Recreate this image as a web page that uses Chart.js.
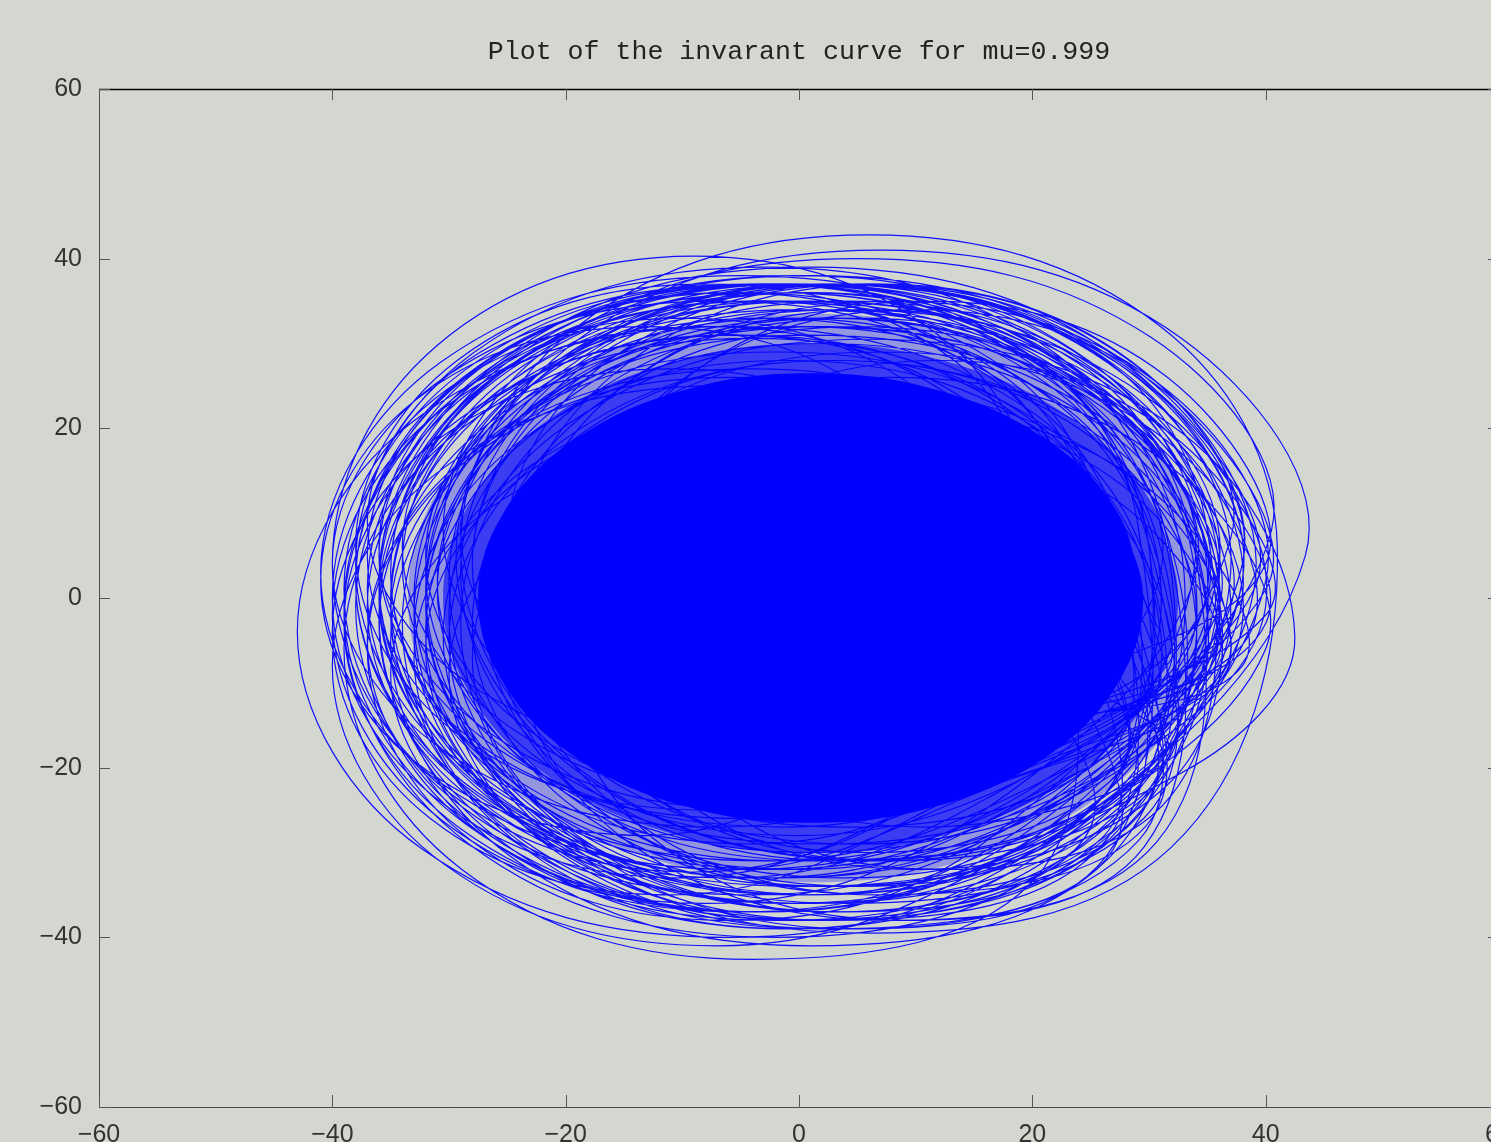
<!DOCTYPE html>
<html lang="en">
<head>
<meta charset="UTF-8">
<title>Plot of the invarant curve</title>
<script src="https://cdn.jsdelivr.net/npm/chart.js"></script>
<style>
    html, body {
        margin: 0;
        padding: 0;
        overflow: hidden;
        background: #d4d7d0;
    }
    #wrap {
        width: 1598px;
        height: 1180px;
    }
</style>
</head>
<body>
<div id="wrap"><canvas id="chart" width="1598" height="1180"></canvas></div>

<script>
const titleText = 'Plot of the invarant curve for mu=0.999';
const xTicks = [-60, -40, -20, 0, 20, 40, 60];
const yTicks = [-60, -40, -20, 0, 20, 40, 60];

// dense, nearly solid middle of the curve (last two points repeat the first two to close smoothly)
const coreX = [29.5, 27.3, 21.2, 11.9, 1, -9.9, -19.2, -25.3, -27.5, -25.3, -19.2, -9.9, 1, 11.9, 21.2, 27.3, 29.5, 27.3];
const coreY = [0, 10.1, 18.7, 24.5, 26.5, 24.5, 18.7, 10.1, 0, -10.1, -18.7, -24.5, -26.5, -24.5, -18.7, -10.1, 0, 10.1];
// less dense rings around it
const ring1X = [32.5, 30.1, 23.3, 13.1, 1, -11.1, -21.3, -28.1, -30.5, -28.1, -21.3, -11.1, 1, 13.1, 23.3, 30.1, 32.5, 30.1];
const ring1Y = [0, 11.5, 21.2, 27.7, 30, 27.7, 21.2, 11.5, 0, -11.5, -21.2, -27.7, -30, -27.7, -21.2, -11.5, 0, 11.5];
const ring2X = [35.5, 32.9, 25.4, 14.2, 1, -12.2, -23.4, -30.9, -33.5, -30.9, -23.4, -12.2, 1, 14.2, 25.4, 32.9, 35.5, 32.9];
const ring2Y = [0, 12.8, 23.7, 30.9, 33.5, 30.9, 23.7, 12.8, 0, -12.8, -23.7, -30.9, -33.5, -30.9, -23.7, -12.8, 0, 12.8];

// the outer turns of the curve (8 points per turn)
const curvePts = [
    [31,-4],[20.3,21.6],[-6,32],[-32.3,21.6],[-43,-4],[-32.3,-29.6],[-6,-40],[20.3,-29.6],
    [43.4,5],[32.8,30.6],[7,41],[-18.8,30.6],[-29.4,5],[-18.8,-20.6],[7,-31],[32.8,-20.6],
    [42.5,-4.5],[31.9,20.4],[6,30.5],[-19.9,20.4],[-30.5,-4.5],[-19.9,-29.4],[6,-39.5],[31.9,-29.4],
    [41,6],[30.9,32.1],[6,42.8],[-18.9,32.1],[-29,6],[-18.9,-20.1],[6,-30.8],[30.9,-20.1],
    [31,-6],[20.9,20],[-4,30.6],[-28.9,20],[-39,-6],[-28.9,-32],[-4,-42.6],[20.9,-32],
    [22,4],[13,29.8],[-9,40.3],[-31,29.8],[-40,4],[-31,-21.8],[-9,-32.3],[13,-21.8],
    [31,3],[20.6,27.9],[-5,38],[-30.6,27.9],[-41,3],[-30.6,-21.9],[-5,-32],[20.6,-21.9],
    [40.5,8],[30.2,30.7],[5,40],[-20.2,30.7],[-30.5,8],[-20.2,-14.7],[5,-24],[30.2,-14.7],
    [37,-5],[26.6,20.6],[1,31],[-24.6,20.6],[-35,-5],[-24.6,-30.6],[1,-41],[26.6,-30.6],
    [32,2],[22.1,26.1],[-2,36],[-26.1,26.1],[-36,2],[-26.1,-22.1],[-2,-32],[22.1,-22.1],
    [36,-2],[26.4,22.9],[3,33],[-20.4,22.9],[-30,-2],[-20.4,-26.9],[3,-37],[26.4,-26.9],
    [32,-1],[21.9,24.6],[-3,35],[-27.9,24.6],[-38,-1],[-27.9,-26.6],[-3,-37],[21.9,-26.6],
    [38,2],[28.1,26.9],[4,37],[-20.1,26.9],[-30,2],[-20.1,-22.9],[4,-33],[28.1,-22.9],
    [26,-8],[16.4,15.4],[-7,25],[-30.4,15.4],[-40,-8],[-30.4,-31.4],[-7,-41],[16.4,-31.4],
    [40,-6],[30.7,16.7],[8,26],[-14.7,16.7],[-24,-6],[-14.7,-28.7],[8,-38],[30.7,-28.7],
    [34,5],[23.9,27.7],[-1,37],[-25.9,27.7],[-36,5],[-25.9,-17.7],[-1,-27],[23.9,-17.7],
    [37,-7],[26.9,15.7],[2,25],[-22.9,15.7],[-33,-7],[-22.9,-29.7],[2,-39],[26.9,-29.7],
    [20,0],[11.3,23.4],[-10,33],[-31.3,23.4],[-40,0],[-31.3,-23.4],[-10,-33],[11.3,-23.4],
    [40,1],[31.3,24.4],[10,34],[-11.3,24.4],[-20,1],[-11.3,-22.4],[10,-32],[31.3,-22.4],
    [36,0],[25.6,24.1],[0,34],[-25.6,24.1],[-36,0],[-25.6,-24.1],[0,-34],[25.6,-24.1],
    [30,6],[20.4,28],[-3,37],[-26.4,28],[-36,6],[-26.4,-16],[-3,-25],[20.4,-16],
    [39,-3],[29.1,22.6],[5,33],[-19.1,22.6],[-29,-3],[-19.1,-28.6],[5,-39],[29.1,-28.6],
    [29,-3],[19.1,21.1],[-5,31],[-29.1,21.1],[-39,-3],[-29.1,-27.1],[-5,-37],[19.1,-27.1],
    [38,4],[27.6,27.4],[2,37],[-23.6,27.4],[-34,4],[-23.6,-19.4],[2,-29],[27.6,-19.4],
    [32,-3],[22.4,22.6],[-1,33],[-24.4,22.6],[-34,-3],[-24.4,-28.6],[-1,-39],[22.4,-28.6],
    [39,1],[29.7,26.6],[7,37],[-15.7,26.6],[-25,1],[-15.7,-24.6],[7,-35],[29.7,-24.6],
    [26,2],[16.7,26.1],[-6,36],[-28.7,26.1],[-38,2],[-28.7,-22.1],[-6,-32],[16.7,-22.1],
    [36,-9],[26.4,12.3],[3,21],[-20.4,12.3],[-30,-9],[-20.4,-30.3],[3,-39],[26.4,-30.3],
    [29,9],[19.4,28.9],[-4,37],[-27.4,28.9],[-37,9],[-27.4,-10.9],[-4,-19],[19.4,-10.9],
    [40,4],[31.6,26],[11,35],[-9.6,26],[-18,4],[-9.6,-18],[11,-27],[31.6,-18],
    [18,-4],[9.6,18],[-11,27],[-31.6,18],[-40,-4],[-31.6,-26],[-11,-35],[9.6,-26],
    [39,1],[28,27.3],[1,38],[-26,27.3],[-37,1],[-26,-25.3],[1,-36],[28,-25.3],
    [35,-2],[24.3,25],[-2,36],[-28.3,25],[-39,-2],[-28.3,-29],[-2,-40],[24.3,-29],
    [37,3],[27.4,27.1],[4,37],[-19.4,27.1],[-29,3],[-19.4,-21.1],[4,-31],[27.4,-21.1],
    [22,6],[13.3,28],[-8,37],[-29.3,28],[-38,6],[-29.3,-16],[-8,-25],[13.3,-16],
    [38,-8],[29.6,13.3],[9,22],[-11.6,13.3],[-20,-8],[-11.6,-29.3],[9,-38],[29.6,-29.3],
    [32,4],[21.9,28.9],[-3,39],[-27.9,28.9],[-38,4],[-27.9,-20.9],[-3,-31],[21.9,-20.9],
    [36,-4],[26.1,20.1],[2,30],[-22.1,20.1],[-32,-4],[-22.1,-28.1],[2,-38],[26.1,-28.1],
    [25,-6],[16,16.7],[-6,26],[-28,16.7],[-37,-6],[-28,-28.7],[-6,-38],[16,-28.7],
    [37,7],[28,28.3],[6,37],[-16,28.3],[-25,7],[-16,-14.3],[6,-23],[28,-14.3],
    [35,-1],[24.9,25.3],[0,36],[-24.9,25.3],[-35,-1],[-24.9,-27.3],[0,-38],[24.9,-27.3],
    [15,2],[6.9,23.3],[-13,32],[-32.9,23.3],[-41,2],[-32.9,-19.3],[-13,-28],[6.9,-19.3],
    [40,-2],[31.9,19.3],[12,28],[-7.9,19.3],[-16,-2],[-7.9,-23.3],[12,-32],[31.9,-23.3],
    [35,8],[25.7,28.6],[3,37],[-19.7,28.6],[-29,8],[-19.7,-12.6],[3,-21],[25.7,-12.6],
    [31,-9],[21.4,11.6],[-2,20],[-25.4,11.6],[-35,-9],[-25.4,-29.6],[-2,-38],[21.4,-29.6],
    [40,2],[30.7,25.4],[8,35],[-14.7,25.4],[-24,2],[-14.7,-21.4],[8,-31],[30.7,-21.4],
    [24,-2],[14.7,22.1],[-8,32],[-30.7,22.1],[-40,-2],[-30.7,-26.1],[-8,-36],[14.7,-26.1],
    [34,3],[24.4,26.4],[1,36],[-22.4,26.4],[-32,3],[-22.4,-20.4],[1,-30],[24.4,-20.4],
    [31,2],[22,23.3],[0,32],[-22,23.3],[-31,2],[-22,-19.3],[0,-28],[22,-19.3],
    [34,-3],[25,19],[3,28],[-19,19],[-28,-3],[-19,-25],[3,-34],[25,-25],
    [29,0],[19.7,23.4],[-3,33],[-25.7,23.4],[-35,0],[-25.7,-23.4],[-3,-33],[19.7,-23.4],
    [35,1],[25.4,23.7],[2,33],[-21.4,23.7],[-31,1],[-21.4,-21.7],[2,-31],[25.4,-21.7],
    [31,-4],[21.7,18.7],[-1,28],[-23.7,18.7],[-33,-4],[-23.7,-26.7],[-1,-36],[21.7,-26.7],
    [36,4],[26.7,26],[4,35],[-18.7,26],[-28,4],[-18.7,-18],[4,-27],[26.7,-18],
    [27,3],[18,25.7],[-4,35],[-26,25.7],[-35,3],[-26,-19.7],[-4,-29],[18,-19.7],
    [37,-1],[27.7,22.4],[5,32],[-17.7,22.4],[-27,-1],[-17.7,-24.4],[5,-34],[27.7,-24.4],
    [31,-2],[21.4,20],[-2,29],[-25.4,20],[-35,-2],[-25.4,-24],[-2,-33],[21.4,-24],
    [34,5],[24.4,26.3],[1,35],[-22.4,26.3],[-32,5],[-22.4,-16.3],[1,-25],[24.4,-16.3],
    [32,-6],[22.7,15.3],[0,24],[-22.7,15.3],[-32,-6],[-22.7,-27.3],[0,-36],[22.7,-27.3],
    [36,2],[27.3,24.7],[6,34],[-15.3,24.7],[-24,2],[-15.3,-20.7],[6,-30],[27.3,-20.7],
    [25,-1],[16,21.7],[-6,31],[-28,21.7],[-37,-1],[-28,-23.7],[-6,-33],[16,-23.7],
    [36,-1],[26.1,22.4],[2,32],[-22.1,22.4],[-32,-1],[-22.1,-24.4],[2,-34],[26.1,-24.4],
    [33,3],[23.1,27.1],[-1,37],[-25.1,27.1],[-35,3],[-25.1,-21.1],[-1,-31],[23.1,-21.1],
    [36,-5],[26.4,18.4],[3,28],[-20.4,18.4],[-30,-5],[-20.4,-28.4],[3,-38],[26.4,-28.4],
    [27,5],[17.7,27],[-5,36],[-27.7,27],[-37,5],[-27.7,-17],[-5,-26],[17.7,-17],
    [40,-3],[30.4,19.7],[7,29],[-16.4,19.7],[-26,-3],[-16.4,-25.7],[7,-35],[30.4,-25.7],
    [26,4],[16.4,26],[-7,35],[-30.4,26],[-40,4],[-30.4,-18],[-7,-27],[16.4,-18],
    [35,0],[25.1,24.9],[1,35],[-23.1,24.9],[-33,0],[-23.1,-24.9],[1,-35],[25.1,-24.9],
    [30,6],[20.7,27.3],[-2,36],[-24.7,27.3],[-34,6],[-24.7,-15.3],[-2,-24],[20.7,-15.3],
    [36,-7],[26.7,14.3],[4,23],[-18.7,14.3],[-28,-7],[-18.7,-28.3],[4,-37],[26.7,-28.3],
    [29,-5],[19.4,17.7],[-4,27],[-27.4,17.7],[-37,-5],[-27.4,-27.7],[-4,-37],[19.4,-27.7],
    [38,4],[28.4,27.4],[5,37],[-18.4,27.4],[-28,4],[-18.4,-19.4],[5,-29],[28.4,-19.4],
    [36,1],[25.6,26.6],[0,37],[-25.6,26.6],[-36,1],[-25.6,-24.6],[0,-35],[25.6,-24.6],
    [37,-2],[26.9,23.6],[2,34],[-22.9,23.6],[-33,-2],[-22.9,-27.6],[2,-38],[26.9,-27.6],
    [34,2],[23.6,26.9],[-2,37],[-27.6,26.9],[-38,2],[-27.6,-22.9],[-2,-33],[23.6,-22.9],
    [38,0],[27.9,26.3],[3,37],[-21.9,26.3],[-32,0],[-21.9,-26.3],[3,-37],[27.9,-26.3],
    [33,-1],[22.6,24.6],[-3,35],[-28.6,24.6],[-39,-1],[-28.6,-26.6],[-3,-37],[22.6,-26.6],
    [38,-3],[27.3,21.9],[1,32],[-25.3,21.9],[-36,-3],[-25.3,-27.9],[1,-38],[27.3,-27.9],
    [35,3],[24.9,27.9],[0,38],[-24.9,27.9],[-35,3],[-24.9,-21.9],[0,-32],[24.9,-21.9],
    [40,-1],[29.6,23.9],[4,34],[-21.6,23.9],[-32,-1],[-21.6,-25.9],[4,-36],[29.6,-25.9],
    [31,1],[20.9,26.6],[-4,37],[-28.9,26.6],[-39,1],[-28.9,-24.6],[-4,-35],[20.9,-24.6],
    [38,2],[27.3,28.3],[1,39],[-25.3,28.3],[-36,2],[-25.3,-24.3],[1,-35],[27.3,-24.3],
    [34,-2],[23.9,24.3],[-1,35],[-25.9,24.3],[-36,-2],[-25.9,-28.3],[-1,-39],[23.9,-28.3],
    [36,1],[26.1,26.6],[2,37],[-22.1,26.6],[-32,1],[-22.1,-24.6],[2,-35],[26.1,-24.6]
];

const toXY = (xs, ys) => xs.map((v, i) => ({ x: v, y: ys[i] }));
const minus = v => String(v).replace('-', '\u2212');

// frame and the small inward tick marks on all four sides
const frame = {
    id: 'frame',
    afterDraw(chart) {
        const { ctx, chartArea: a, scales } = chart;
        ctx.save();
        ctx.lineWidth = 1;
        ctx.strokeStyle = '#4a4a4a';
        ctx.beginPath();
        ctx.moveTo(a.left + 0.5, a.top);
        ctx.lineTo(a.left + 0.5, a.bottom + 0.5);
        ctx.lineTo(a.right, a.bottom + 0.5);
        ctx.stroke();
        ctx.strokeStyle = '#000';
        ctx.lineWidth = 1.5;
        ctx.beginPath();
        ctx.moveTo(a.left, a.top + 0.5);
        ctx.lineTo(a.right, a.top + 0.5);
        ctx.stroke();

        ctx.lineWidth = 1;
        ctx.strokeStyle = '#555';
        ctx.beginPath();
        xTicks.forEach(v => {
            const px = Math.round(scales.x.getPixelForValue(v)) + 0.5;
            ctx.moveTo(px, a.bottom); ctx.lineTo(px, a.bottom - 12);
            ctx.moveTo(px, a.top); ctx.lineTo(px, a.top + 11);
        });
        yTicks.forEach(v => {
            const py = Math.round(scales.y.getPixelForValue(v)) + 0.5;
            ctx.moveTo(a.left, py); ctx.lineTo(a.left + 11, py);
            ctx.moveTo(a.right, py); ctx.lineTo(a.right - 11, py);
        });
        ctx.stroke();
        ctx.restore();
    }
};

const tickFont = { family: '"Liberation Sans", Arial, sans-serif', size: 25 };
const fillSet = (xs, ys, colour, order) => ({
    data: toXY(xs, ys),
    showLine: true,
    borderWidth: 0,
    borderColor: 'rgba(0,0,255,0)',
    backgroundColor: colour,
    pointRadius: 0,
    tension: 0.38,
    fill: 'shape',
    order: order
});

new Chart(document.getElementById('chart').getContext('2d'), {
    type: 'scatter',
    data: {
        datasets: [
            {
                data: curvePts.map(p => ({ x: p[0], y: p[1] })),
                showLine: true,
                borderColor: 'rgba(0, 0, 255, 0.92)',
                borderWidth: 1.2,
                pointRadius: 0,
                tension: 0.38,
                fill: false,
                order: 1
            },
            fillSet(coreX, coreY, '#0000ff', 2),
            fillSet(ring1X, ring1Y, 'rgba(0, 0, 255, 0.6)', 3),
            fillSet(ring2X, ring2Y, 'rgba(0, 0, 255, 0.3)', 4)
        ]
    },
    options: {
        responsive: false,
        animation: false,
        layout: { padding: 0 },
        plugins: {
            legend: { display: false },
            tooltip: { enabled: false },
            title: {
                display: true,
                text: titleText,
                color: '#222',
                font: { family: '"Liberation Mono", "DejaVu Sans Mono", monospace', size: 26.6, weight: 'normal' },
                padding: { top: 36, bottom: 21.1 }
            }
        },
        scales: {
            x: {
                type: 'linear',
                min: -60,
                max: 60,
                afterFit: s => { s.height = 73; },
                afterBuildTicks: s => { s.ticks = xTicks.map(v => ({ value: v })); },
                grid: { display: false, drawTicks: false },
                border: { display: false },
                ticks: { color: '#333', font: tickFont, padding: 13, maxRotation: 0, callback: minus }
            },
            y: {
                type: 'linear',
                min: -60,
                max: 60,
                afterFit: s => { s.width = 99; },
                afterBuildTicks: s => { s.ticks = yTicks.map(v => ({ value: v })); },
                grid: { display: false, drawTicks: false },
                border: { display: false },
                ticks: { color: '#333', font: tickFont, padding: 17, callback: minus }
            },
            y2: {
                type: 'linear',
                position: 'right',
                min: -60,
                max: 60,
                afterFit: s => { s.width = 99; },
                grid: { display: false, drawTicks: false },
                border: { display: false },
                ticks: { display: false }
            }
        }
    },
    plugins: [frame]
});
</script>
</body>
</html>
